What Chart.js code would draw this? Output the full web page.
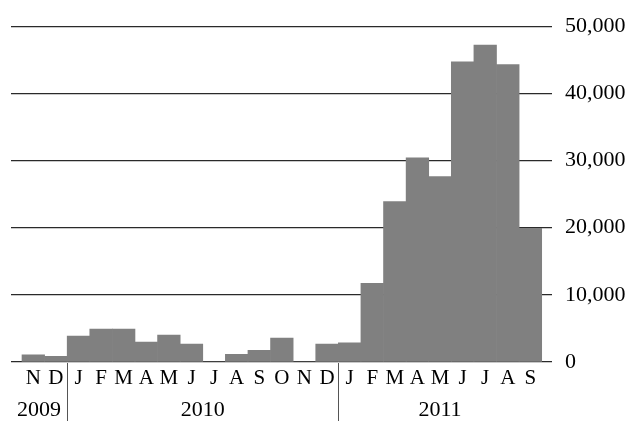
<!DOCTYPE html>
<html>
<head>
<meta charset="utf-8">
<script src="https://cdn.jsdelivr.net/npm/chart.js@4/dist/chart.umd.min.js"></script>
<style>
  html, body { margin: 0; padding: 0; background: #fff; }
  #wrap { width: 632px; height: 421px; position: relative; }
</style>
</head>
<body>
<div id="wrap"><canvas id="myChart"></canvas></div>
<script>
// monthly values, Nov 2009 .. Sep 2011
var months = ['N', 'D', 'J', 'F', 'M', 'A', 'M', 'J', 'J', 'A', 'S', 'O', 'N', 'D',
              'J', 'F', 'M', 'A', 'M', 'J', 'J', 'A', 'S'];
var values = [1050, 830, 3850, 4900, 4900, 2950, 4000, 2650, 0, 1150, 1750, 3550, 0, 2650,
              2850, 11700, 23900, 30400, 27600, 44700, 47200, 44300, 19900];
var years = ['2009', '2010', '2011'];
var yearFirstMonth = [0, 2, 14];
var yearLastMonth = [1, 13, 22];
var yTicks = [0, 10000, 20000, 30000, 40000, 50000];

var points = [];
for (let i = 0; i < values.length; i++) {
  points.push({ x: i, y: values[i] });
}

// year labels under the months, with separators between years
const yearPlugin = {
  id: 'years',
  afterDraw(chart) {
    const ctx = chart.ctx;
    const x = chart.scales.x;
    const area = chart.chartArea;
    ctx.save();
    ctx.font = '22px "Liberation Serif"';
    ctx.fillStyle = '#000';
    ctx.textAlign = 'center';
    ctx.textBaseline = 'middle';
    for (let i = 0; i < years.length; i++) {
      const left = i === 0 ? area.left : x.getPixelForValue(yearFirstMonth[i] - 0.5);
      const right = x.getPixelForValue(yearLastMonth[i] + 0.5);
      ctx.fillText(years[i], (left + right) / 2, 410);
      if (i > 0) {
        ctx.strokeStyle = '#555';
        ctx.lineWidth = 1;
        ctx.beginPath();
        ctx.moveTo(Math.round(left) + 0.5, area.bottom + 1);
        ctx.lineTo(Math.round(left) + 0.5, chart.height);
        ctx.stroke();
      }
    }
    ctx.restore();
  }
};

const config = {
  type: 'bar',
  data: {
    datasets: [{
      data: points,
      backgroundColor: '#808080',
      borderWidth: 0,
      barPercentage: 1,
      categoryPercentage: 1
    }]
  },
  options: {
    responsive: true,
    maintainAspectRatio: false,
    animation: false,
    layout: { padding: { top: 23, left: 11, right: 0, bottom: 0 } },
    plugins: { legend: { display: false }, tooltip: { enabled: false } },
    scales: {
      x: {
        type: 'linear',
        offset: false,
        min: -0.987,
        max: 22.956,
        grid: { display: false, drawTicks: false },
        border: { display: false },
        afterBuildTicks: function (scale) {
          scale.ticks = months.map((m, i) => ({ value: i }));
        },
        afterFit: function (scale) { scale.height = 59; },
        ticks: {
          autoSkip: false,
          maxRotation: 0,
          padding: 4,
          color: '#000',
          font: { family: '"Liberation Serif"', size: 21 },
          callback: function (value) { return months[value]; }
        }
      },
      y: {
        position: 'right',
        min: 0,
        max: 50000,
        afterBuildTicks: function (scale) {
          scale.ticks = yTicks.map(v => ({ value: v }));
        },
        afterFit: function (scale) { scale.width = 80; },
        grid: { color: '#2a2a2a', lineWidth: 1.3, drawTicks: false },
        border: { display: false },
        ticks: {
          padding: 13,
          color: '#000',
          font: { family: '"Liberation Serif"', size: 22 },
          callback: function (value) { return value.toLocaleString('en-US'); }
        }
      }
    }
  },
  plugins: [yearPlugin]
};

var myChart = new Chart(document.getElementById('myChart'), config);
</script>
</body>
</html>
